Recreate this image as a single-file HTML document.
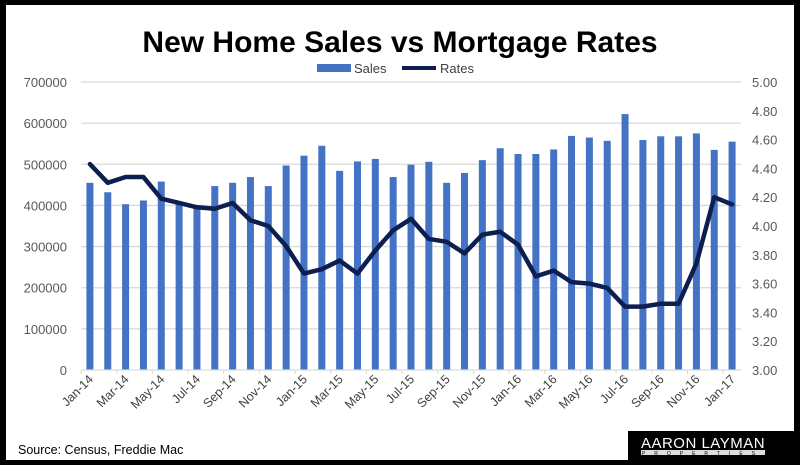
<!DOCTYPE html>
<html><head><meta charset="utf-8"><style>
body{margin:0;background:#000;}
#wrap{position:relative;width:800px;height:465px;overflow:hidden;background:#000;}
svg{position:absolute;left:0;top:0;font-family:"Liberation Sans",sans-serif;}
</style></head><body>
<div id="wrap">
<svg id="c" width="800" height="465"></svg>
</div>
<script>
const months=["Jan-14","Feb-14","Mar-14","Apr-14","May-14","Jun-14","Jul-14","Aug-14","Sep-14","Oct-14","Nov-14","Dec-14","Jan-15","Feb-15","Mar-15","Apr-15","May-15","Jun-15","Jul-15","Aug-15","Sep-15","Oct-15","Nov-15","Dec-15","Jan-16","Feb-16","Mar-16","Apr-16","May-16","Jun-16","Jul-16","Aug-16","Sep-16","Oct-16","Nov-16","Dec-16","Jan-17"];
const sales=[455000,432000,403000,412000,458000,405000,400000,447000,455000,469000,447000,497000,521000,545000,484000,507000,513000,469000,499000,506000,455000,479000,510000,539000,525000,525000,536000,569000,565000,557000,622000,559000,568000,568000,575000,535000,555000];
const rates=[4.43,4.30,4.34,4.34,4.19,4.16,4.13,4.12,4.16,4.04,4.00,3.86,3.67,3.70,3.76,3.67,3.83,3.97,4.05,3.91,3.89,3.81,3.94,3.96,3.87,3.65,3.69,3.61,3.60,3.57,3.44,3.44,3.46,3.46,3.74,4.20,4.15];
const leftTicks=[0,100000,200000,300000,400000,500000,600000,700000];
const rightTicks=["3.00","3.20","3.40","3.60","3.80","4.00","4.20","4.40","4.60","4.80","5.00"];
const svg=document.getElementById('c');const NS="http://www.w3.org/2000/svg";
function mk(t,a,p){const e=document.createElementNS(NS,t);for(const k in a)e.setAttribute(k,a[k]);(p||svg).appendChild(e);return e;}
const X0=81,X1=741,Y0=370,Y1=82;
const step=(X1-X0)/months.length;
const xc=i=>X0+step*(i+0.5);
const yL=v=>Y0-(v/700000)*(Y0-Y1);
const yR=v=>Y0-((v-3)/2)*(Y0-Y1);
let e=mk('rect',{x:6,y:5,width:788,height:455,fill:'#fff'});

e=mk('text',{x:400,y:52,'text-anchor':'middle','font-size':'30','font-weight':'bold',fill:'#000'});e.textContent='New Home Sales vs Mortgage Rates';

e=mk('rect',{x:317,y:64,width:34,height:8,fill:'#4472c4'});
e=mk('text',{x:354,y:73,'font-size':'13',fill:'#404040'});e.textContent='Sales';
e=mk('line',{x1:402,y1:68,x2:436,y2:68,stroke:'#0c1f4f','stroke-width':4});
e=mk('text',{x:440,y:73,'font-size':'13',fill:'#404040'});e.textContent='Rates';
leftTicks.forEach(v=>{
 if(v>0){e=mk('line',{x1:X0,x2:X1,y1:yL(v),y2:yL(v),stroke:'#d9d9d9','stroke-width':1.3});}
 e=mk('text',{x:67,y:yL(v)+5,'text-anchor':'end','font-size':'13',fill:'#595959'});e.textContent=String(v);
 
});
rightTicks.forEach(t=>{
 e=mk('text',{x:752,y:yR(+t)+5,'font-size':'13',fill:'#595959'});e.textContent=t;
 
});
sales.forEach((v,i)=>{
 e=mk('rect',{x:xc(i)-3.5,y:yL(v),width:7,height:Y0-yL(v),fill:'#4472c4'});
 
});
e=mk('line',{x1:X0,x2:X1,y1:Y0,y2:Y0,stroke:'#d9d9d9','stroke-width':1.3});
months.forEach((m,i)=>{
 if(i%2===0){
  const tx=X0+step*i;
  e=mk('line',{x1:tx,x2:tx,y1:Y0,y2:Y0+4,stroke:'#d9d9d9'});
  const lx=xc(i)+4,ly=380;
  e=mk('text',{x:lx,y:ly,'text-anchor':'end','font-size':'12.5',fill:'#404040',transform:`rotate(-45 ${lx} ${ly})`});e.textContent=m;
  
 }
});
e=mk('polyline',{points:rates.map((r,i)=>xc(i)+','+yR(r)).join(' '),fill:'none',stroke:'#0c1f4f','stroke-width':4.5,'stroke-linejoin':'round','stroke-linecap':'round'});

e=mk('text',{x:18,y:454,'font-size':'12.5',fill:'#000'});e.textContent='Source: Census, Freddie Mac';

e=mk('rect',{x:628,y:431,width:172,height:34,fill:'#000'});
e=mk('text',{x:703,y:448,'text-anchor':'middle','font-size':'15',fill:'#fff','letter-spacing':'0.5'});e.textContent='AARON LAYMAN';

e=mk('rect',{x:641,y:450,width:124,height:5,fill:'#ddd'});
e=mk('text',{x:703,y:455,'text-anchor':'middle','font-size':'5','fill':'#000','letter-spacing':'9'});e.textContent='PROPERTIES';

</script>
</body></html>
